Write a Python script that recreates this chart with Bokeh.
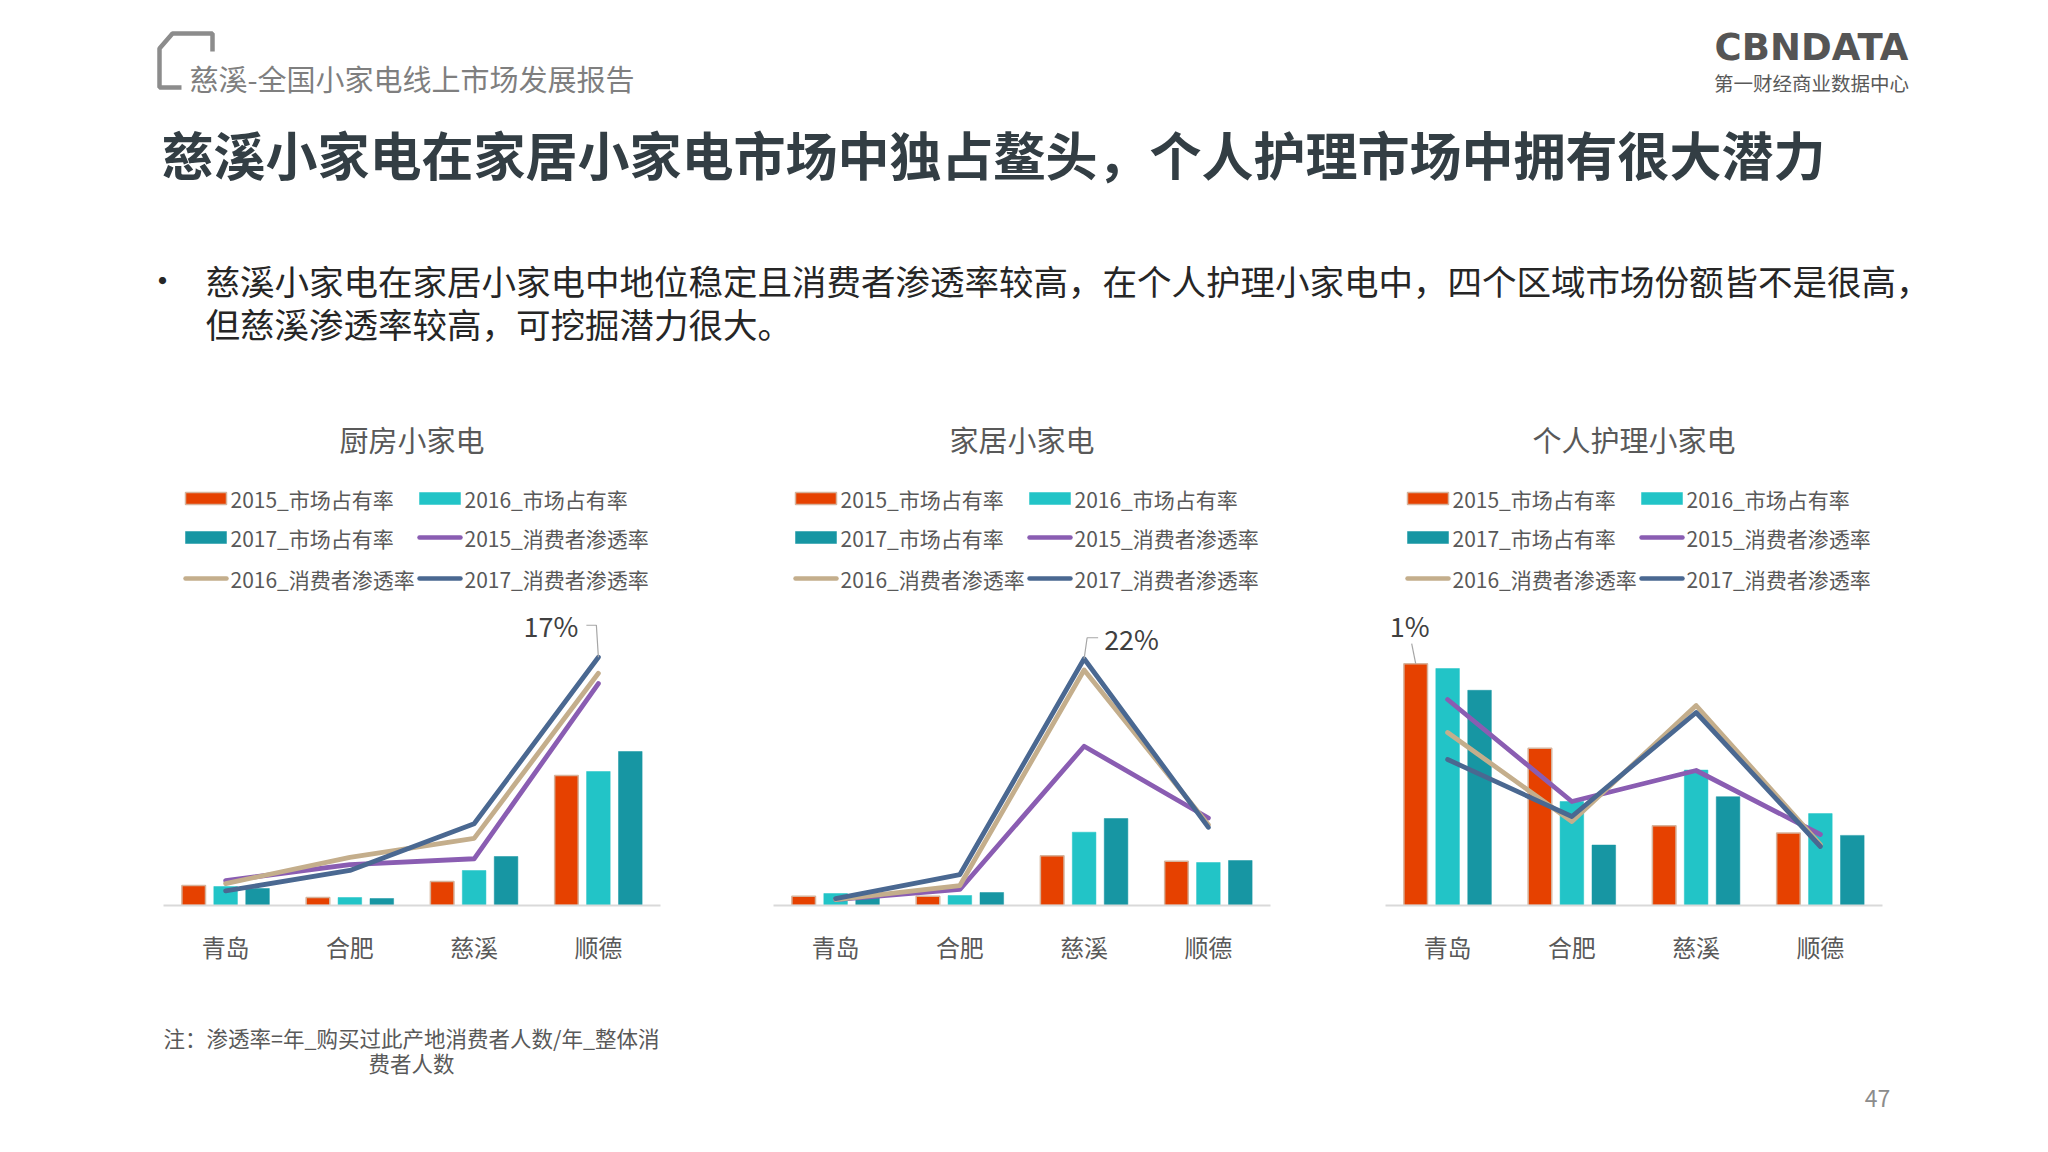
import numpy as np
from bokeh.plotting import figure
from bokeh.models import Range1d, FixedTicker
from bokeh.layouts import column, row
from bokeh.embed import file_html
from bokeh.resources import INLINE
from bokeh.core.properties import value

# ---------------- data ----------------
cities = ["青岛", "合肥", "慈溪", "顺德"]
bar_names = ["2015_市场占有率", "2016_市场占有率", "2017_市场占有率"]
line_names = ["2015_消费者渗透率", "2016_消费者渗透率", "2017_消费者渗透率"]

# 厨房小家电 (market share, penetration in %)
kitchen_share_2015 = [2.0, 0.8, 2.4, 13.0]
kitchen_share_2016 = [1.9, 0.8, 3.5, 13.4]
kitchen_share_2017 = [1.7, 0.7, 4.9, 15.4]
kitchen_pen_2015 = [1.7, 2.8, 3.2, 15.2]
kitchen_pen_2016 = [1.5, 3.3, 4.6, 15.9]
kitchen_pen_2017 = [1.0, 2.4, 5.6, 17.0]

# 家居小家电
home_share_2015 = [0.93, 0.93, 4.97, 4.43]
home_share_2016 = [1.2, 1.0, 7.33, 4.3]
home_share_2017 = [0.77, 1.3, 8.7, 4.5]
home_pen_2015 = [0.53, 1.43, 14.2, 7.8]
home_pen_2016 = [0.53, 1.78, 21.0, 7.2]
home_pen_2017 = [0.62, 2.76, 22.0, 6.97]

# 个人护理小家电
care_share_2015 = [1.0, 0.65, 0.33, 0.30]
care_share_2016 = [0.98, 0.43, 0.56, 0.38]
care_share_2017 = [0.89, 0.25, 0.45, 0.29]
care_pen_2015 = [20.6, 10.4, 13.5, 7.1]
care_pen_2016 = [17.3, 8.4, 20.0, 6.1]
care_pen_2017 = [14.6, 8.9, 19.3, 5.9]

chart_titles = ["厨房小家电", "家居小家电", "个人护理小家电"]
data_labels = ["17%", "22%", "1%"]

BAR_COLORS = ["#E64100", "#22C4C7", "#1796A3"]
LINE_COLORS = ["#8A5DB2", "#C4AE8C", "#4A6891"]
RED_EDGE = "#D6B39C"
CJK = "Noto Sans CJK SC"

FRAME_W = 497
FRAME_H = 295
CAT_PX = FRAME_W / 4.0
PAGE_W = 2040

charts = [
    dict(shares=[kitchen_share_2015, kitchen_share_2016, kitchen_share_2017],
         pens=[kitchen_pen_2015, kitchen_pen_2016, kitchen_pen_2017],
         bar_max=29.5, pen_max=20.2,
         lab=("pen", 2, 3), lab_text=data_labels[0],
         lead=[(0, 0), (-2, 32), (-12, 32)], text_off=(-20, 32), align="right",
         bl=163, br=48),
    dict(shares=[home_share_2015, home_share_2016, home_share_2017],
         pens=[home_pen_2015, home_pen_2016, home_pen_2017],
         bar_max=29.5, pen_max=26.3,
         lab=("pen", 2, 2), lab_text=data_labels[1],
         lead=[(0, 0), (3, 21), (14, 21)], text_off=(20, 20), align="left",
         bl=65, br=50),
    dict(shares=[care_share_2015, care_share_2016, care_share_2017],
         pens=[care_pen_2015, care_pen_2016, care_pen_2017],
         bar_max=1.22, pen_max=29.5,
         lab=("bar", 0, 0), lab_text=data_labels[2],
         lead=[(0, 0), (-4, 20)], text_off=(-6, 38), align="center",
         bl=65, br=158),
]

BAR_W = 0.19
BAR_STEP = 0.257
xc = np.arange(len(cities)) + 0.5


def make_chart(c):
    p = figure(frame_width=FRAME_W, frame_height=FRAME_H,
               x_range=Range1d(0, 4), y_range=Range1d(0, c["bar_max"]),
               toolbar_location=None, output_backend="svg",
               y_axis_location=None, min_border_left=c["bl"],
               min_border_right=c["br"], min_border_top=10,
               min_border_bottom=85)
    p.extra_y_ranges = {"pen": Range1d(0, c["pen_max"])}
    p.xgrid.grid_line_color = None
    p.ygrid.grid_line_color = None
    p.outline_line_color = None
    p.background_fill_color = "white"
    p.border_fill_color = "white"
    ax = p.xaxis[0]
    ax.ticker = FixedTicker(ticks=list(xc))
    ax.major_label_overrides = {float(x): n for x, n in zip(xc, cities)}
    ax.axis_line_color = "#D9D9D9"
    ax.axis_line_width = 2
    ax.major_tick_line_color = None
    ax.minor_tick_line_color = None
    ax.major_label_text_font = CJK
    ax.major_label_text_font_size = "24px"
    ax.major_label_text_color = "#595959"
    ax.major_label_standoff = 17

    for i, vals in enumerate(c["shares"]):
        edge = RED_EDGE if i == 0 else BAR_COLORS[i]
        p.vbar(x=xc + (i - 1) * BAR_STEP, top=vals, bottom=0, width=BAR_W,
               fill_color=BAR_COLORS[i], line_color=edge,
               line_width=1.5 if i == 0 else 0.5)
    for i, vals in enumerate(c["pens"]):
        p.line(x=xc, y=vals, y_range_name="pen", line_color=LINE_COLORS[i],
               line_width=4.8, line_cap="round", line_join="round")

    kind, si, ci = c["lab"]
    if kind == "pen":
        x0 = xc[ci]
        y0 = c["pens"][si][ci]
        ymax = c["pen_max"]
        rn = "pen"
    else:
        x0 = xc[ci] + (si - 1) * BAR_STEP
        y0 = c["shares"][si][ci]
        ymax = c["bar_max"]
        rn = "default"
    upx = ymax / FRAME_H
    lx = [x0 + dx / CAT_PX for dx, dy in c["lead"]]
    ly = [y0 + dy * upx for dx, dy in c["lead"]]
    p.line(x=lx, y=ly, y_range_name=rn, line_color="#A6A6A6", line_width=1.2)
    tx, ty = c["text_off"]
    p.text(x=[x0 + tx / CAT_PX], y=[y0 + ty * upx], text=[c["lab_text"]],
           y_range_name=rn, text_font=value(CJK), text_font_size="27px",
           text_color="#404040", text_align=c["align"], text_baseline="middle")
    return p


chart_figs = [make_chart(c) for c in charts]

# ---------------- top figure (header, title, bullets, chart titles, legends) ----------------
TOP_H = 600
top = figure(width=PAGE_W, height=TOP_H, x_range=Range1d(0, PAGE_W),
             y_range=Range1d(TOP_H, 0), toolbar_location=None,
             output_backend="svg", min_border=0)
top.axis.visible = False
top.grid.visible = False
top.outline_line_color = None


def txt(p, x, y, s, size, color, align="left", bold=False, font=CJK):
    p.text(x=[x], y=[y], text=[s], text_font=value(font),
           text_font_size=size, text_color=color, text_align=align,
           text_baseline="middle", text_font_style="bold" if bold else "normal")


# header bracket icon
top.line(x=[212, 212, 172, 159, 159, 181], y=[51, 33, 33, 48, 87, 87],
         line_color="#8C8C8C", line_width=4.5)
txt(top, 189, 77, "慈溪-全国小家电线上市场发展报告", "29px", "#7F7F7F")

# logo
txt(top, 1811, 47, "CBNDATA", "37px", "#555555", align="center", bold=True,
    font="DejaVu Sans")
txt(top, 1811, 82, "第一财经商业数据中心", "19.5px", "#595959", align="center")

# title
txt(top, 161, 153, "慈溪小家电在家居小家电市场中独占鳌头，个人护理市场中拥有很大潜力",
    "52px", "#333E44", bold=True)

# bullets
txt(top, 162, 279, "•", "34px", "#262626", align="center")
txt(top, 205, 279,
    "慈溪小家电在家居小家电中地位稳定且消费者渗透率较高，在个人护理小家电中，四个区域市场份额皆不是很高，",
    "34.5px", "#262626")
txt(top, 205, 322, "但慈溪渗透率较高，可挖掘潜力很大。", "34.5px", "#262626")

# chart titles and legends
frame_lefts = [163, 773, 1385]
legend_items = [("bar", 0), ("bar", 1), ("bar", 2), ("line", 0), ("line", 1), ("line", 2)]
for k, L in enumerate(frame_lefts):
    txt(top, L + FRAME_W / 2, 438, chart_titles[k], "29px", "#595959", align="center")
    for j, (kind, si) in enumerate(legend_items):
        col = j % 2
        rw = j // 2
        sx = L + 22 + col * 234
        yy = [498, 537, 578][rw]
        if kind == "bar":
            top.quad(left=[sx], right=[sx + 41], top=[yy - 6], bottom=[yy + 6],
                     fill_color=BAR_COLORS[si],
                     line_color=RED_EDGE if si == 0 else BAR_COLORS[si],
                     line_width=1.5 if si == 0 else 0.5)
            name = bar_names[si]
        else:
            top.line(x=[sx, sx + 41], y=[yy, yy], line_color=LINE_COLORS[si],
                     line_width=4.5, line_cap="round")
            name = line_names[si]
        txt(top, sx + 45, yy, name, "21px", "#595959")

# ---------------- bottom figure ----------------
BOT_H = 150
bot = figure(width=PAGE_W, height=BOT_H, x_range=Range1d(0, PAGE_W),
             y_range=Range1d(990 + BOT_H, 990), toolbar_location=None,
             output_backend="svg", min_border=0)
bot.axis.visible = False
bot.grid.visible = False
bot.outline_line_color = None
txt(bot, 411, 1037, "注：渗透率=年_购买过此产地消费者人数/年_整体消", "21.5px", "#595959", align="center")
txt(bot, 411, 1062, "费者人数", "21.5px", "#595959", align="center")
txt(bot, 1877, 1098, "47", "23px", "#8C8C8C", align="center")

layout = column(top, row(*chart_figs), bot)
open("out.html", "w").write(file_html(layout, INLINE))
